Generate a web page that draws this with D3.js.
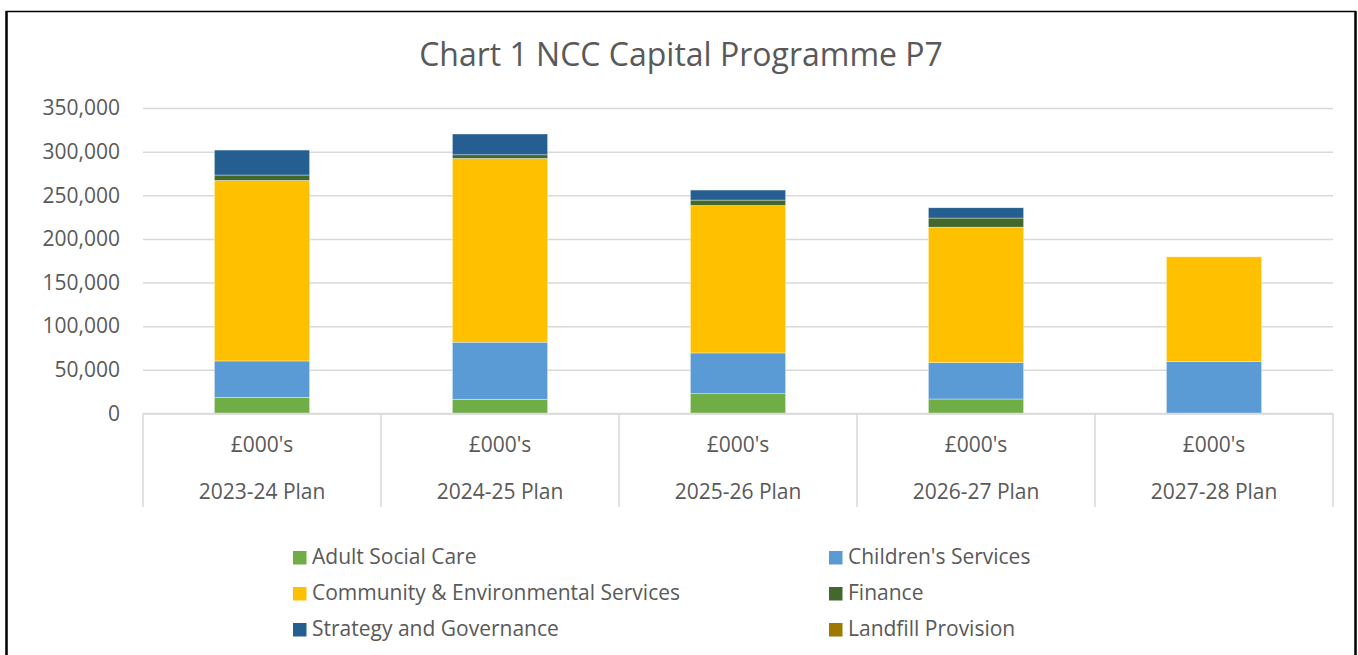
<!DOCTYPE html>
<html>
<head>
<meta charset="utf-8">
<script src="https://cdn.jsdelivr.net/npm/d3@7"></script>
<style>
  html, body { margin: 0; padding: 0; background: #fff; }
  svg { display: block; font-family: "Open Sans", "Noto Sans", sans-serif; }
</style>
</head>
<body>
<svg id="chart" width="1358" height="655"></svg>
<script>
// Capital programme plan years (£000's)
const years = ["2023-24 Plan", "2024-25 Plan", "2025-26 Plan", "2026-27 Plan", "2027-28 Plan"];
const unitLabel = "£000's";

const series = ["Adult Social Care", "Children's Services", "Community & Environmental Services",
                "Finance", "Strategy and Governance", "Landfill Provision"];

const adultSocialCare   = [18600, 16300, 22700, 16600, 0];
const childrensServices = [41600, 65400, 46700, 41700, 59400];
const communityEnv      = [206800, 210500, 168900, 155200, 120100];
const finance           = [6200, 4200, 6200, 10400, 0];
const strategyGov       = [28600, 23800, 11500, 11800, 0];
const landfill          = [0, 0, 0, 0, 0];

const yTicks = [0, 50000, 100000, 150000, 200000, 250000, 300000, 350000];
const chartTitle = "Chart 1 NCC Capital Programme P7";

const colors = ["#70AD47", "#5B9BD5", "#FFC000", "#43682B", "#255E91", "#9E7800"];

const svg = d3.select("#chart");
const W = 1358, H = 655;
const plot = { left: 143, right: 1333, top: 108, bottom: 413.5 };
const textColor = "#595959";
const gridColor = "#D9D9D9";
const labelSize = 21;

// Outer frame
svg.append("rect").attr("x", 0).attr("y", 0).attr("width", W).attr("height", H).attr("fill", "#fff");
svg.append("line").attr("x1", 6).attr("x2", 1356).attr("y1", 11.5).attr("y2", 11.5)
  .attr("stroke", "#000").attr("stroke-width", 1.5);
svg.append("line").attr("x1", 6.5).attr("x2", 6.5).attr("y1", 11).attr("y2", H)
  .attr("stroke", "#000").attr("stroke-width", 2.5);
svg.append("line").attr("x1", 1355.5).attr("x2", 1355.5).attr("y1", 11).attr("y2", H)
  .attr("stroke", "#000").attr("stroke-width", 2.5);

// Title
svg.append("text").attr("x", 681).attr("y", 66).attr("text-anchor", "middle")
  .attr("font-size", 32).attr("fill", textColor).text(chartTitle);

// Scales
const x = d3.scaleBand().domain(years).range([plot.left, plot.right]).padding(0);
const y = d3.scaleLinear().domain([0, 350000]).range([plot.bottom, plot.top]);
const barW = x.bandwidth() * 0.4;

// Gridlines and value axis labels
const yAxis = d3.axisLeft(y).tickValues(yTicks).tickSize(-(plot.right - plot.left))
  .tickFormat(d3.format(","));
const gy = svg.append("g").attr("transform", `translate(${plot.left},0)`).call(yAxis);
gy.select(".domain").remove();
gy.selectAll(".tick line").attr("stroke", gridColor).attr("stroke-width", 1.5);
gy.selectAll(".tick text").attr("x", -23).attr("fill", textColor)
  .attr("font-size", labelSize).attr("font-family", "\"Open Sans\", sans-serif");

// Stacked data
const table = years.map((yr, i) => ({
  year: yr,
  [series[0]]: adultSocialCare[i],
  [series[1]]: childrensServices[i],
  [series[2]]: communityEnv[i],
  [series[3]]: finance[i],
  [series[4]]: strategyGov[i],
  [series[5]]: landfill[i]
}));
const stacked = d3.stack().keys(series)(table);

const layers = svg.append("g").selectAll("g").data(stacked).join("g")
  .attr("fill", (d, i) => colors[i]);
layers.selectAll("rect").data(d => d).join("rect")
  .attr("x", d => x(d.data.year) + (x.bandwidth() - barW) / 2)
  .attr("width", barW)
  .attr("y", d => y(d[1]))
  .attr("height", d => Math.max(0, y(d[0]) - y(d[1])))
  .attr("stroke", "#fff").attr("stroke-width", 0.6).attr("stroke-opacity", 0.6)
  .filter(d => d[1] - d[0] <= 0).remove();

// Category axis: baseline, dividers and two-level labels
const catAxis = svg.append("g");
catAxis.append("line").attr("x1", plot.left).attr("x2", plot.right)
  .attr("y1", plot.bottom).attr("y2", plot.bottom)
  .attr("stroke", gridColor).attr("stroke-width", 1.5);
const dividers = years.map(d => x(d)).concat([plot.right]);
catAxis.selectAll(".div").data(dividers).join("line")
  .attr("x1", d => d).attr("x2", d => d)
  .attr("y1", plot.bottom).attr("y2", 507)
  .attr("stroke", gridColor).attr("stroke-width", 1.5);
catAxis.selectAll(".unit").data(years).join("text")
  .attr("x", d => x(d) + x.bandwidth() / 2).attr("y", 452)
  .attr("text-anchor", "middle").attr("font-size", labelSize).attr("fill", textColor)
  .text(unitLabel);
catAxis.selectAll(".yr").data(years).join("text")
  .attr("x", d => x(d) + x.bandwidth() / 2).attr("y", 499)
  .attr("text-anchor", "middle").attr("font-size", labelSize).attr("fill", textColor)
  .text(d => d);

// Legend (two columns, row-major)
const legendCols = [293, 829];
const legendRows = [557, 593, 629];
const legend = svg.append("g").selectAll("g").data(series).join("g")
  .attr("transform", (d, i) => `translate(${legendCols[i % 2]},${legendRows[Math.floor(i / 2)]})`);
legend.append("rect").attr("x", 0).attr("y", -6).attr("width", 13.5).attr("height", 13.5)
  .attr("fill", (d, i) => colors[i]);
legend.append("text").attr("x", 19).attr("y", 7).attr("font-size", labelSize)
  .attr("fill", textColor).text(d => d);
</script>
</body>
</html>
